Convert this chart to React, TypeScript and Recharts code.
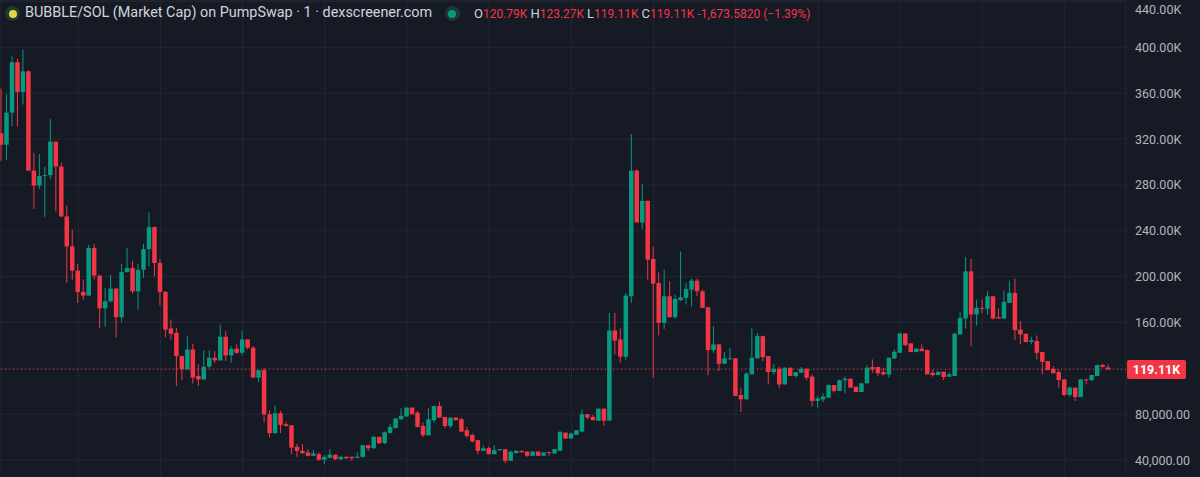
import { Bar, CartesianGrid, ComposedChart, ReferenceLine, XAxis, YAxis } from 'recharts'

const UP = '#089981'
const DOWN = '#f23645'
const BG = '#161a25'
const GRID = '#232733'
const TEXT = '#b2b5be'
const FONT = 'Roboto, sans-serif'

// OHLC of each 1m candle, market cap in thousands
const opens = [
  325, 315, 343, 387, 361, 379, 292.5, 279.4, 287.8, 288.5,
  317.7, 296, 252.5, 226.3, 205.2, 186.7, 183.5, 225, 200.9, 172.4,
  178.5, 189.6, 164.6, 204, 207.6, 187.2, 206, 224, 243.2, 211.9,
  186.7, 154.8, 151, 130.7, 119.1, 136.5, 113.4, 110.4, 121.5, 129.3,
  127, 147.6, 131.3, 137.1, 133.6, 145.2, 138, 111.9, 118.5, 80,
  63.5, 80.9, 71.3, 70.4, 51.6, 48.1, 46.7, 43.8, 45.2, 40.3,
  42, 44.8, 40.8, 42.9, 42.9, 42, 42.9, 53, 50.4, 60.3,
  54.8, 63.7, 68.1, 75.7, 78, 85.8, 81.4, 69.8, 61.7, 74.8,
  87.2, 77.7, 69.8, 77.1, 75.7, 66.1, 62, 57.4, 48.1, 50.4,
  45.2, 48.7, 49.6, 39.4, 46.1, 48.1, 47.5, 43.8, 47.5, 43.8,
  47.2, 45.8, 48.1, 64, 58.9, 62, 64.9, 80, 77.7, 74.4,
  84.9, 74.4, 153, 145.2, 130.2, 182.9, 292.4, 247.2, 266.1, 215.4,
  194.5, 159.7, 182.9, 164.6, 179.4, 181.5, 188.7, 196.5, 187.2, 173.3,
  136, 140.9, 124, 128, 128.7, 96.8, 93, 114.8, 128.7, 148.1,
  130.7, 116.8, 119.7, 106, 120.6, 113.3, 116.2, 119.7, 112.8, 91.6,
  93, 94.5, 105.5, 100.3, 109.6, 111, 104.1, 99.4, 107, 121.2,
  121.2, 116.8, 114.8, 128.7, 133.6, 150.4, 141.8, 134.2, 137.1, 136,
  116.2, 114.2, 117.1, 112.8, 113.3, 149.6, 163.5, 204.6, 167, 172.8,
  172, 182.9, 164.6, 163.5, 177.1, 185.8, 153.9, 150.2, 143.2, 143.8,
  134.2, 126.4, 119.7, 116.8, 110.4, 96.8, 103.2, 95, 110.4, 109.8,
  113.4, 122.9, 120.79,
]

const highs = [
  364, 359, 392, 390, 398, 380, 308, 307, 295.7, 337.4,
  317.7, 299.4, 262, 240.9, 211.3, 197.4, 227.8, 228.7, 201.7, 190.4,
  201.7, 190, 211.3, 225.2, 213.9, 211.3, 228.7, 255.9, 243.8, 215.4,
  187.5, 162.6, 155.4, 131.3, 148.1, 141.5, 123.5, 135.7, 135.7, 135,
  158.3, 152.4, 139.4, 140.9, 152.4, 145.2, 139.5, 118.5, 120.6, 83.5,
  87.8, 82.9, 73.6, 70.4, 53.9, 53.9, 49.6, 48.7, 46.7, 44.3,
  49.6, 44.8, 43.5, 43.3, 42.9, 46.7, 53, 53, 61.1, 60.3,
  65, 71.3, 77, 85.2, 86.5, 85.8, 82.9, 72.8, 85.2, 87.2,
  91.1, 77.7, 77.1, 77.1, 77.1, 69, 63.2, 57.4, 53, 51.9,
  53, 49.6, 49.6, 48.7, 48.7, 48.1, 47.5, 47.5, 47.5, 46.7,
  47.2, 49.6, 65.5, 64, 64, 66.1, 84.3, 80, 79.4, 84.9,
  84.9, 168.4, 168.4, 154.8, 185.8, 324.3, 293.9, 280.6, 266.1, 226.3,
  203.8, 206, 196, 184.3, 222, 194.5, 198.3, 198.3, 188.7, 173.3,
  156.8, 141.5, 134.2, 138, 128.7, 103.2, 116.8, 154.8, 151, 148.7,
  130.7, 124, 121.5, 121, 120.6, 116.8, 121.2, 119.7, 114.8, 95.9,
  98.3, 106, 105.5, 110.4, 112.8, 111, 104.1, 107, 122.6, 127.8,
  121.2, 120.6, 129.3, 136.5, 151, 150.4, 141.8, 137.7, 140.9, 136.5,
  118.5, 117.1, 117.1, 116.2, 151, 169.3, 217.1, 215.4, 180, 180,
  187.2, 182.9, 172.2, 187.8, 196.5, 198.3, 161.1, 150.2, 147.6, 148.7,
  134.2, 126.4, 122, 119.1, 110.4, 104.6, 103.2, 110.4, 110.4, 114.2,
  122.9, 124, 123.27,
]

const lows = [
  301, 302, 331, 331, 350, 292, 259, 276.5, 252, 285,
  256.8, 252, 194.5, 197.4, 177, 180, 183.5, 197.4, 155, 156.5,
  177.4, 147, 160.3, 203.5, 185.2, 171.3, 199, 209, 200.3, 175,
  147.2, 145.2, 104.6, 109.6, 119, 106.9, 104.6, 110, 120, 125,
  126.5, 126.4, 125, 132.8, 131.3, 136.5, 111.5, 108.1, 72.8, 59.7,
  63.5, 63.5, 69.3, 45.2, 42.9, 45.2, 43.2, 43.8, 39.4, 36.5,
  41.7, 40, 40, 41, 39.4, 41.7, 42, 48, 49.6, 54,
  54, 63, 67.5, 75, 78, 80, 68.4, 60.3, 61.7, 72.8,
  77.1, 67.8, 67.8, 74.8, 64.9, 59.1, 55.4, 45.2, 48.1, 45.2,
  45.2, 48, 37.4, 39.4, 46.1, 46.4, 42.9, 43.8, 43.8, 43.8,
  43.8, 45.8, 48.1, 58.3, 58.3, 62, 64.1, 75.7, 74.8, 74.4,
  69.8, 74.4, 132.2, 124.9, 127.2, 177, 247.2, 241.5, 197.4, 111.9,
  148.7, 154.5, 164.6, 163.5, 178.6, 175.7, 174.2, 182.9, 172.8, 113.9,
  133.6, 117.7, 124, 128, 96, 82, 93, 114.8, 128.7, 126.4,
  106, 114.8, 102.6, 106, 113.3, 112, 116.2, 109.6, 86.7, 85.8,
  90.7, 94.5, 98.9, 100.3, 98.3, 103.2, 99.4, 99.4, 107, 116.2,
  113.3, 113.9, 111.9, 128, 133.6, 139.4, 134.2, 134.2, 135, 114.8,
  112.8, 114.2, 109.8, 112.8, 113.3, 149.6, 154.8, 139.4, 157.4, 168.4,
  167, 162.6, 163.5, 163.5, 177.1, 144.6, 140.9, 142.9, 140.9, 127.8,
  114.8, 118.5, 115.7, 103.2, 96, 95, 91.6, 95, 106, 109,
  113.4, 120.6, 119.11,
]

const closes = [
  315, 343, 387, 361, 379, 292.5, 279.4, 287.8, 288.5, 317.7,
  296, 252.5, 226.3, 205.2, 186.7, 183.5, 225, 200.9, 172.4, 178.5,
  189.6, 164.6, 204, 207.6, 187.2, 206, 224, 243.2, 211.9, 186.7,
  153.9, 150.2, 130.7, 119.1, 136.5, 111.9, 110.4, 121.5, 129.3, 127,
  147.6, 131.3, 137.1, 133.6, 145.2, 138, 111.9, 118.5, 80, 63.5,
  80.9, 70.7, 69.8, 51, 48.1, 46.1, 43.8, 45.8, 40.3, 42.9,
  44.8, 40.8, 42.9, 41.7, 41.7, 43, 53, 50.4, 60.3, 54.8,
  64.3, 69, 76.3, 78.6, 85.8, 80, 69, 61.7, 75.7, 87.2,
  77.1, 69.8, 77.1, 74.8, 64.9, 61.1, 56.3, 48.1, 50.4, 45.2,
  48.7, 49.6, 39.4, 47.2, 48.1, 47, 43.8, 47.5, 43.8, 46.7,
  46.4, 49.6, 64.6, 58.9, 63.2, 66.1, 80, 77.1, 74.8, 84.9,
  74.4, 153, 144.3, 130.2, 183.5, 292.4, 247.2, 266.1, 214.8, 193.9,
  159.7, 182.9, 164.6, 180.6, 182, 189.3, 196.5, 187.2, 172.8, 136,
  140.9, 124, 128.7, 128.7, 96, 93, 115.4, 129.3, 148.1, 129.8,
  116.8, 119.7, 106, 120.6, 113.3, 116.8, 119.7, 111.9, 91.6, 93.9,
  95.4, 105.5, 100.3, 109.6, 111, 103.2, 99.4, 107, 120.6, 119.1,
  115.7, 114.8, 129.3, 134.5, 150.4, 140.3, 134.2, 137.1, 135, 114.8,
  114.2, 117.1, 112.5, 114.8, 150.2, 164, 204.6, 167, 172.8, 172,
  182.9, 163.5, 163.5, 178, 185.8, 153.3, 149.6, 142.9, 144.6, 133.6,
  125.8, 118.5, 115.7, 109.8, 96.8, 103.2, 95, 110.4, 109.6, 114.2,
  122.9, 121.2, 119.11,
]

const priceTicks = [40, 80, 120, 160, 200, 240, 280, 320, 360, 400, 440]
const timeTicks = [14, 29, 44, 59, 74, 89, 104, 119, 134, 149, 164, 179, 194]

const title = 'BUBBLE/SOL (Market Cap) on PumpSwap · 1 · dexscreener.com'
const change = '-1,673.5820 (\u22121.39%)'

const rows = opens.map((o, i) => ({
  i,
  o,
  c: closes[i],
  h: Math.max(highs[i], o, closes[i]),
  l: Math.min(lows[i], o, closes[i]),
}))
const last = rows[rows.length - 1]

const fmt = (v: number) =>
  v >= 100
    ? `${v.toFixed(2)}K`
    : (v * 1000).toLocaleString('en-US', { minimumFractionDigits: 2, maximumFractionDigits: 2 })

function Candle(props: any) {
  const { x, y, width, height, payload } = props
  if (x == null || y == null || !payload) return null
  const top = Math.min(y, y + height)
  const bot = Math.max(y, y + height)
  const span = payload.h - payload.l
  const px = (v: number) => (span > 0 ? top + ((payload.h - v) / span) * (bot - top) : top)
  const color = payload.c >= payload.o ? UP : DOWN
  const cx = x + width / 2
  const bTop = px(Math.max(payload.o, payload.c))
  const bBot = px(Math.min(payload.o, payload.c))
  return (
    <g>
      <line x1={cx} x2={cx} y1={top} y2={bot} stroke={color} strokeWidth={1} />
      <rect x={x} y={bTop} width={width} height={Math.max(1, bBot - bTop)} fill={color} />
    </g>
  )
}

function PriceTick(props: any) {
  const { x, y, payload } = props
  // the 120K label sits under the last-price tag
  if (payload.value === 120) return <g />
  return (
    <text x={x} y={y} dy={4.5} fill={TEXT} fontSize={12.5} fontFamily={FONT} textAnchor="start">
      {fmt(payload.value)}
    </text>
  )
}

function PriceTag(props: any) {
  const { viewBox } = props
  if (!viewBox) return null
  const x = viewBox.x + viewBox.width + 1
  const y = viewBox.y
  return (
    <g>
      <rect x={x} y={y - 9.5} width={59} height={19} rx={2} fill={DOWN} />
      <text x={x + 29.5} y={y + 4.5} textAnchor="middle" fill="#ffffff" fontSize={12.5} fontWeight={700} fontFamily={FONT}>
        {fmt(last.c)}
      </text>
    </g>
  )
}

function Dot({ left, ring, fill }: { left: number; ring: string; fill: string }) {
  return (
    <div
      style={{
        position: 'absolute',
        left: left - 7.5,
        top: 6,
        width: 15,
        height: 15,
        borderRadius: '50%',
        background: ring,
        display: 'flex',
        alignItems: 'center',
        justifyContent: 'center',
      }}
    >
      <div style={{ width: 8, height: 8, borderRadius: '50%', background: fill }} />
    </div>
  )
}

export default function App() {
  const ohlc: [string, number][] = [
    ['O', last.o],
    ['H', last.h],
    ['L', last.l],
    ['C', last.c],
  ]
  return (
    <div style={{ position: 'relative', width: 1200, height: 477, background: BG, overflow: 'hidden' }}>
      <style>{`body{margin:0;background:${BG}}`}</style>
      <ComposedChart
        width={1200}
        height={477}
        data={rows}
        margin={{ top: 0, right: 0, bottom: 0, left: 0 }}
      >
        <CartesianGrid stroke={GRID} />
        <XAxis
          dataKey="i"
          type="number"
          domain={[-0.274, 205.18]}
          ticks={timeTicks}
          allowDataOverflow
          hide
        />
        <YAxis
          orientation="right"
          width={74}
          type="number"
          domain={[25.3, 441.2]}
          ticks={priceTicks}
          allowDataOverflow
          axisLine={false}
          tickLine={false}
          tickMargin={3}
          tick={<PriceTick />}
        />
        <Bar dataKey={(d: any) => [d.l, d.h]} barSize={4.5} shape={<Candle />} isAnimationActive={false} />
        <ReferenceLine y={last.c} stroke={DOWN} strokeDasharray="1 3" label={<PriceTag />} />
      </ComposedChart>
      <Dot left={12.5} ring="#1d3a2b" fill="#e3d449" />
      <div
        style={{
          position: 'absolute',
          left: 25,
          top: 5,
          fontFamily: FONT,
          fontSize: 14.4,
          lineHeight: '16px',
          color: '#d1d4dc',
          whiteSpace: 'nowrap',
        }}
      >
        {title}
      </div>
      <Dot left={452} ring="#1b3a36" fill={UP} />
      <div
        style={{
          position: 'absolute',
          left: 474,
          top: 6,
          fontFamily: FONT,
          fontSize: 12,
          lineHeight: '16px',
          color: DOWN,
          whiteSpace: 'nowrap',
        }}
      >
        {ohlc.map(([k, v]) => (
          <span key={k} style={{ marginRight: 3 }}>
            <span style={{ color: '#d1d4dc', fontSize: 13 }}>{k}</span>
            {fmt(v)}
          </span>
        ))}
        <span>{change}</span>
      </div>
    </div>
  )
}
